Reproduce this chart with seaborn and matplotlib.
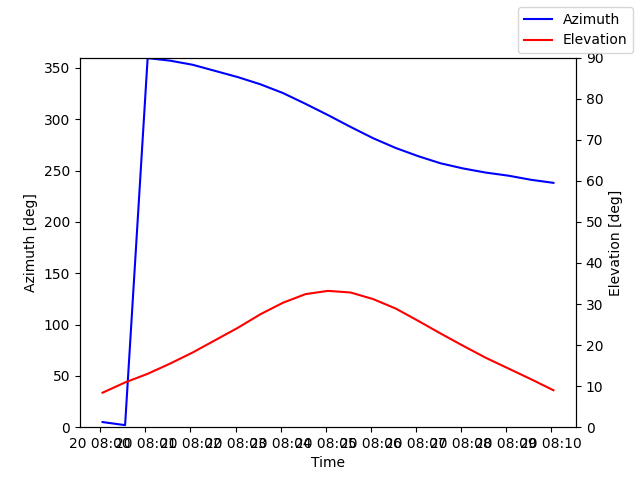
import pandas as pd
import matplotlib
matplotlib.use("Agg")
import matplotlib.pyplot as plt
import matplotlib.dates as mdates
import seaborn as sns

# Samples every 30 s from 08:00:03 to 08:10:03
times = pd.date_range("2024-03-20 08:00:03", "2024-03-20 08:10:03", freq="30s")

azimuth = [5, 2, 359.5, 357, 353, 347, 341, 334, 325.5, 315, 304,
           292.5, 281.5, 272, 264, 257, 252, 248, 245, 241, 238]
elevation = [8.4, 10.9, 13.0, 15.5, 18.2, 21.2, 24.2, 27.5, 30.3, 32.4, 33.2,
             32.8, 31.2, 28.9, 25.9, 22.8, 19.8, 16.9, 14.3, 11.7, 9.0]

df = pd.DataFrame({"Time": times, "Azimuth": azimuth, "Elevation": elevation})

fig, ax = plt.subplots(figsize=(6.4, 4.8), dpi=100)
ax2 = ax.twinx()

sns.lineplot(data=df, x="Time", y="Azimuth", color="blue", label="Azimuth",
             legend=False, ax=ax)
sns.lineplot(data=df, x="Time", y="Elevation", color="red", label="Elevation",
             legend=False, ax=ax2)

ax.set_xlabel("Time")
ax.set_ylabel("Azimuth [deg]")
ax2.set_ylabel("Elevation [deg]")
ax.set_ylim(0, 360)
ax2.set_ylim(0, 90)

# one tick per minute, labels overlap like in the original
ax.xaxis.set_major_locator(mdates.MinuteLocator(interval=1))
ax.xaxis.set_major_formatter(mdates.DateFormatter("%d %H:%M"))

fig.legend(loc="upper right")

plt.savefig("out.png")
plt.close()
